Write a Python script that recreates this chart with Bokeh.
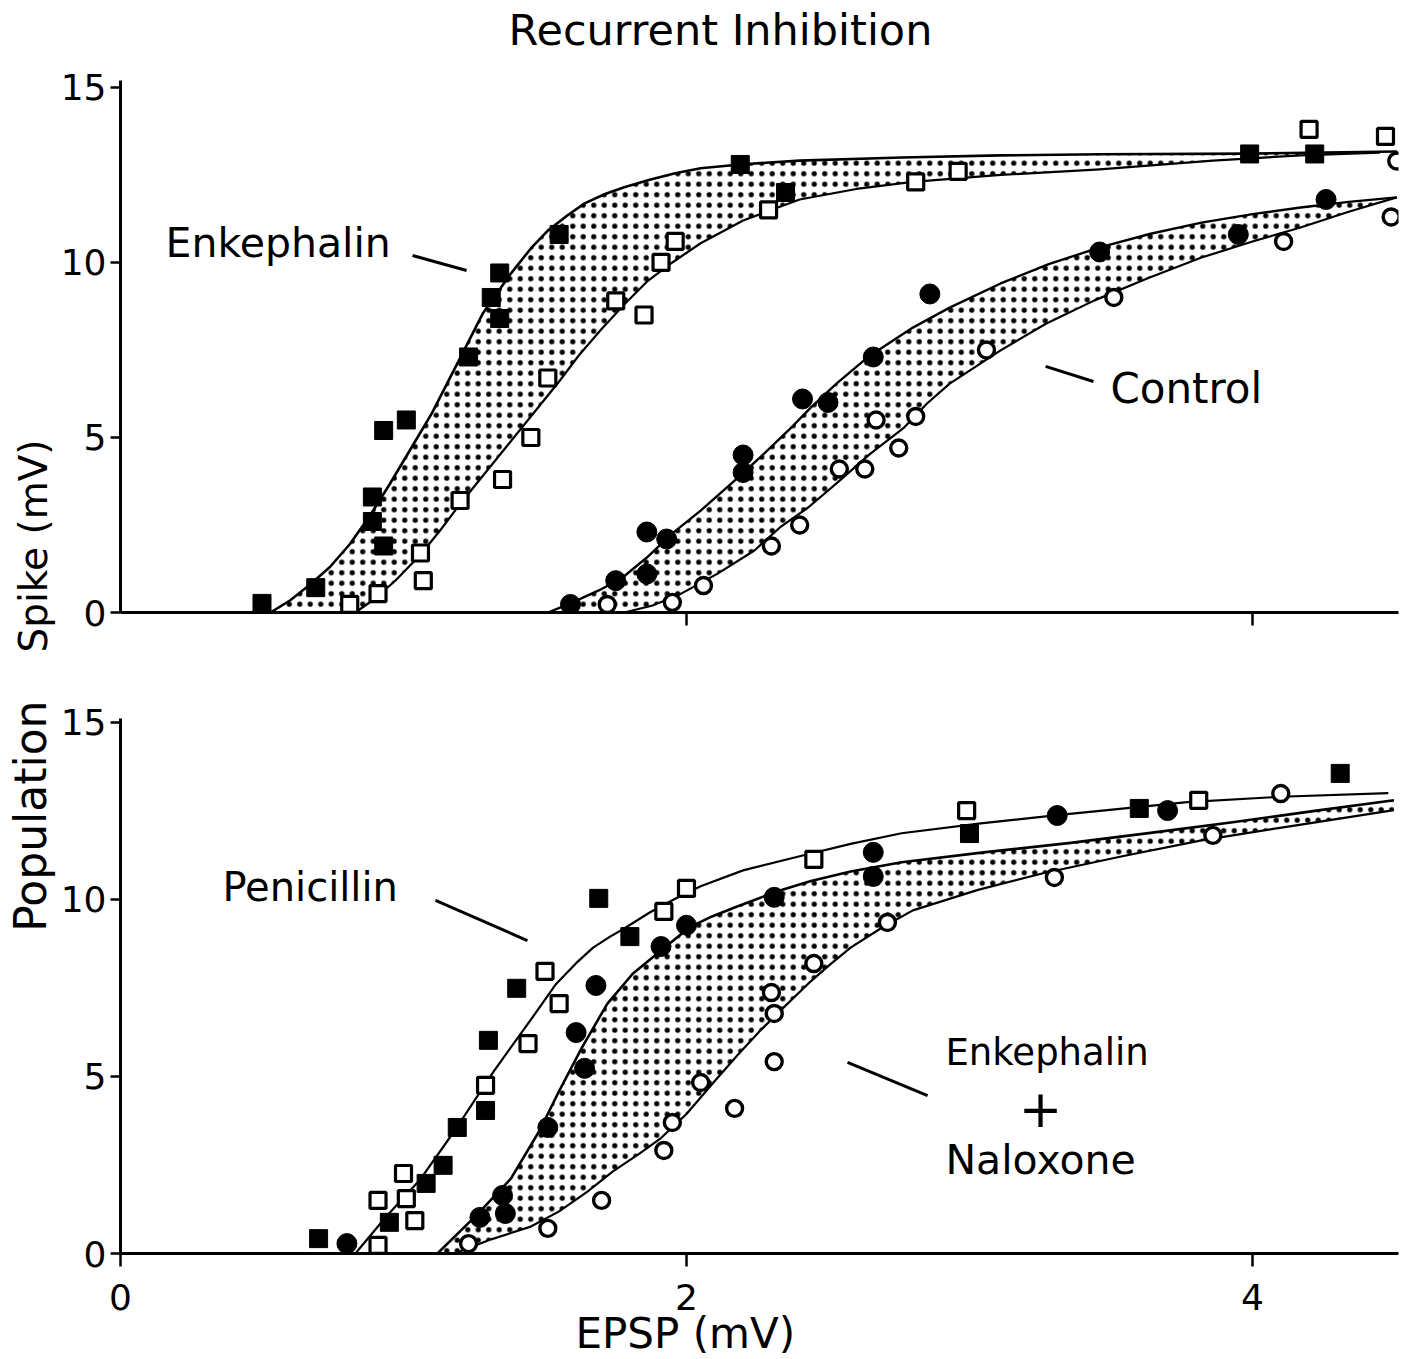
from bokeh.plotting import figure
from bokeh.models import Range1d, FixedTicker, Label, Title
from bokeh.layouts import column
from bokeh.embed import file_html
from bokeh.resources import INLINE

FONT = "DejaVu Sans"

# ---------------- Top panel: Spike (mV) vs EPSP (mV) ----------------
enk_fill_x = [0.50, 0.69, 0.89, 0.89, 0.93, 0.93, 1.01, 1.23, 1.31, 1.34, 1.34, 1.55, 2.19, 2.35, 3.99, 4.22]
enk_fill_y = [0.26, 0.71, 3.3, 2.6, 5.2, 1.9, 5.5, 7.3, 9.0, 9.7, 8.4, 10.8, 12.8, 12.0, 13.1, 13.1]
enk_open_x = [0.81, 0.91, 1.06, 1.07, 1.20, 1.35, 1.45, 1.51, 1.75, 1.85, 1.91, 1.96, 2.29, 2.81, 2.96, 4.20, 4.47]
enk_open_y = [0.23, 0.54, 1.7, 0.91, 3.2, 3.8, 5.0, 6.7, 8.9, 8.5, 10.0, 10.6, 11.5, 12.3, 12.6, 13.8, 13.6]
ctl_fill_x = [1.59, 1.75, 1.86, 1.86, 1.93, 2.20, 2.20, 2.41, 2.50, 2.66, 2.86, 3.46, 3.95, 4.26]
ctl_fill_y = [0.23, 0.91, 1.1, 2.3, 2.1, 4.5, 4.0, 6.1, 6.0, 7.3, 9.1, 10.3, 10.8, 11.8]
ctl_open_x = [1.72, 1.95, 2.06, 2.30, 2.40, 2.54, 2.63, 2.67, 2.75, 2.81, 3.06, 3.51, 4.11, 4.49, 4.51]
ctl_open_y = [0.23, 0.29, 0.77, 1.9, 2.5, 4.1, 4.1, 5.5, 4.7, 5.6, 7.5, 9.0, 10.6, 11.3, 12.9]

# hand-drawn curves
enk_hi_x = [0.53, 0.60, 0.67, 0.74, 0.81, 0.88, 0.95, 1.02, 1.10, 1.19, 1.28, 1.38, 1.45, 1.51, 1.58, 1.64, 1.71, 1.78, 1.87, 1.96, 2.05, 2.19, 2.40, 2.76, 3.11, 3.46, 3.99, 4.51]
enk_hi_y = [0.0, 0.35, 0.8, 1.3, 1.95, 2.75, 3.65, 4.6, 5.69, 7.11, 8.54, 9.69, 10.4, 10.91, 11.35, 11.69, 11.95, 12.15, 12.36, 12.55, 12.69, 12.8, 12.91, 13.0, 13.06, 13.09, 13.11, 13.17]
enk_lo_x = [0.83, 0.90, 0.97, 1.06, 1.13, 1.20, 1.27, 1.34, 1.41, 1.48, 1.55, 1.62, 1.70, 1.78, 1.86, 1.95, 2.05, 2.20, 2.40, 2.60, 2.80, 3.11, 3.46, 3.86, 4.17, 4.45]
enk_lo_y = [0.0, 0.4, 0.9, 1.65, 2.35, 3.1, 3.8, 4.5, 5.2, 5.9, 6.6, 7.35, 8.1, 8.8, 9.45, 10.0, 10.55, 11.2, 11.8, 12.1, 12.3, 12.5, 12.66, 12.91, 13.06, 13.14]
ctl_hi_x = [1.51, 1.59, 1.69, 1.77, 1.86, 1.95, 2.05, 2.17, 2.26, 2.36, 2.44, 2.53, 2.64, 2.80, 2.93, 3.11, 3.28, 3.46, 3.64, 3.82, 4.00, 4.17, 4.34, 4.51]
ctl_hi_y = [0.0, 0.26, 0.63, 0.97, 1.57, 2.26, 2.91, 3.77, 4.43, 5.2, 5.86, 6.54, 7.29, 8.14, 8.71, 9.4, 9.95, 10.43, 10.82, 11.14, 11.38, 11.57, 11.73, 11.86]
ctl_lo_x = [1.78, 1.88, 1.97, 2.11, 2.24, 2.33, 2.43, 2.53, 2.65, 2.77, 2.85, 2.93, 3.11, 3.27, 3.44, 3.63, 3.82, 4.00, 4.17, 4.34, 4.51]
ctl_lo_y = [0.0, 0.2, 0.49, 1.11, 1.77, 2.43, 3.0, 3.69, 4.54, 5.29, 5.97, 6.54, 7.49, 8.25, 8.91, 9.55, 10.14, 10.6, 11.0, 11.45, 11.86]

# ---------------- Bottom panel: Population spike ----------------
pen_fill_x = [0.70, 0.95, 1.08, 1.14, 1.19, 1.29, 1.30, 1.40, 1.69, 1.80, 3.00, 3.60, 4.31]
pen_fill_y = [0.42, 0.88, 1.98, 2.49, 3.56, 4.04, 6.02, 7.49, 10.03, 8.95, 11.86, 12.57, 13.56]
pen_open_x = [0.91, 0.91, 1.00, 1.01, 1.04, 1.29, 1.44, 1.55, 1.50, 1.92, 2.00, 2.45, 2.99, 3.81]
pen_open_y = [0.23, 1.50, 2.26, 1.55, 0.93, 4.75, 5.93, 7.06, 7.97, 9.66, 10.31, 11.13, 12.51, 12.80]
nal_fill_x = [0.80, 1.27, 1.36, 1.35, 1.51, 1.64, 1.61, 1.68, 1.91, 2.00, 2.31, 2.66, 2.66, 3.31, 3.70]
nal_fill_y = [0.28, 1.02, 1.13, 1.64, 3.56, 5.23, 6.24, 7.57, 8.67, 9.27, 10.06, 10.65, 11.33, 12.37, 12.51]
nal_open_x = [1.23, 1.51, 1.70, 1.92, 1.95, 2.05, 2.17, 2.31, 2.31, 2.30, 2.45, 2.71, 3.30, 3.86, 4.10]
nal_open_y = [0.28, 0.71, 1.50, 2.91, 3.70, 4.83, 4.10, 5.42, 6.78, 7.37, 8.19, 9.35, 10.62, 11.81, 12.99]

pen_x = [0.83, 0.94, 1.06, 1.18, 1.32, 1.44, 1.54, 1.61, 1.67, 1.73, 1.78, 1.87, 1.96, 2.05, 2.20, 2.40, 2.58, 2.76, 3.04, 3.31, 3.77, 4.10, 4.48]
pen_y = [0.0, 1.05, 2.10, 3.46, 5.16, 6.49, 7.62, 8.2, 8.64, 8.95, 9.18, 9.63, 10.02, 10.37, 10.82, 11.22, 11.57, 11.87, 12.15, 12.38, 12.75, 12.9, 13.0]
nal_hi_x = [1.12, 1.26, 1.38, 1.48, 1.55, 1.63, 1.72, 1.81, 1.91, 2.01, 2.09, 2.17, 2.31, 2.44, 2.58, 2.76, 3.05, 3.35, 3.64, 3.93, 4.22, 4.50]
nal_hi_y = [0.0, 1.10, 2.12, 3.46, 4.59, 5.81, 7.05, 7.90, 8.56, 9.21, 9.52, 9.77, 10.20, 10.52, 10.79, 11.05, 11.33, 11.59, 11.88, 12.18, 12.5, 12.80]
nal_lo_x = [1.18, 1.31, 1.45, 1.55, 1.65, 1.74, 1.83, 1.91, 2.00, 2.10, 2.18, 2.26, 2.35, 2.43, 2.51, 2.58, 2.69, 2.80, 3.03, 3.26, 3.54, 3.82, 4.16, 4.50]
nal_lo_y = [0.0, 0.40, 0.76, 1.19, 1.75, 2.32, 2.8, 3.26, 3.94, 4.87, 5.6, 6.29, 7.0, 7.62, 8.18, 8.64, 9.2, 9.69, 10.27, 10.74, 11.22, 11.67, 12.1, 12.52]

y_ticks = [0, 5, 10, 15]
x_ticks = [0, 2, 4]


def style(p, show_xlabels):
    p.xgrid.visible = False
    p.ygrid.visible = False
    p.outline_line_color = None
    ya = p.yaxis[0]
    ya.ticker = FixedTicker(ticks=y_ticks)
    ya.axis_line_width = 3
    ya.axis_line_color = "black"
    ya.major_tick_line_width = 2.5
    ya.major_tick_out = 10
    ya.major_tick_in = 0
    ya.minor_tick_out = 0
    ya.minor_tick_in = 0
    ya.major_label_text_font = FONT
    ya.major_label_text_font_size = "36px"
    ya.major_label_text_color = "black"
    ya.major_label_standoff = 4
    xa = p.xaxis[0]
    xa.axis_line_width = 3
    xa.axis_line_color = "black"
    xa.major_tick_line_width = 2.5
    xa.major_tick_out = 13
    xa.major_tick_in = 0
    xa.minor_tick_out = 0
    xa.minor_tick_in = 0
    if show_xlabels:
        xa.ticker = FixedTicker(ticks=x_ticks)
        xa.major_label_text_font = FONT
        xa.major_label_text_font_size = "36px"
        xa.major_label_text_color = "black"
        xa.major_label_standoff = 17
    else:
        xa.ticker = FixedTicker(ticks=x_ticks[1:])
        xa.major_label_overrides = {2: "", 4: ""}


def band(p, hx, hy, lx, ly):
    p.patch(list(hx) + list(lx)[::-1], list(hy) + list(ly)[::-1],
            fill_color="white", fill_alpha=0.0, line_color=None,
            hatch_pattern="dot", hatch_color="black", hatch_scale=10.5, hatch_weight=2.6)


def pts(p, x, y, kind):
    if kind == "fsq":
        p.scatter(x, y, marker="square", size=18, fill_color="black", line_color="black")
    elif kind == "osq":
        p.scatter(x, y, marker="square", size=16, fill_color="white", line_color="black", line_width=3.2)
    elif kind == "fci":
        p.scatter(x, y, marker="circle", size=20, fill_color="black", line_color="black")
    else:
        p.scatter(x, y, marker="circle", size=16, fill_color="white", line_color="black", line_width=3.4)


def txt(p, x, y, s, size="41px", align="left"):
    p.add_layout(Label(x=x, y=y, text=s, text_font=FONT, text_font_size=size,
                       text_align=align, text_baseline="middle", text_color="black"))


def side_title(p, s, loc, align, offset, size, standoff):
    t = Title(text=s, align=align, offset=offset, standoff=standoff,
              text_font=FONT, text_font_size=size, text_font_style="normal",
              text_color="black")
    p.add_layout(t, loc)


xr = Range1d(0, 4.516)

# ---------- top figure ----------
p1 = figure(width=1405, height=678, x_range=xr, y_range=Range1d(0, 17.37),
            output_backend="svg", toolbar_location=None,
            min_border_left=120, min_border_right=7, min_border_top=4, min_border_bottom=66)
style(p1, False)
p1.yaxis[0].bounds = (0, 15.2)
side_title(p1, "Spike (mV)", "left", "left", -40, "39px", 4)
txt(p1, 1.371, 16.63, "Recurrent Inhibition", size="43px")

band(p1, enk_hi_x, enk_hi_y, enk_lo_x, enk_lo_y)
band(p1, ctl_hi_x, ctl_hi_y, ctl_lo_x, ctl_lo_y)
p1.line(enk_hi_x, enk_hi_y, line_color="black", line_width=2.6, line_join="round")
p1.line(enk_lo_x, enk_lo_y, line_color="black", line_width=2.2, line_join="round")
p1.line(ctl_hi_x, ctl_hi_y, line_color="black", line_width=2.4, line_join="round")
p1.line(ctl_lo_x, ctl_lo_y, line_color="black", line_width=2.2, line_join="round")
pts(p1, enk_open_x, enk_open_y, "osq")
pts(p1, enk_fill_x, enk_fill_y, "fsq")
pts(p1, ctl_open_x, ctl_open_y, "oci")
pts(p1, ctl_fill_x, ctl_fill_y, "fci")

txt(p1, 0.159, 10.57, "Enkephalin")
p1.segment(x0=[1.032], y0=[10.2], x1=[1.223], y1=[9.77], line_color="black", line_width=3)
txt(p1, 3.498, 6.4, "Control", size="42px")
p1.segment(x0=[3.269], y0=[7.03], x1=[3.438], y1=[6.6], line_color="black", line_width=3)

# ---------- bottom figure ----------
p2 = figure(width=1405, height=679, x_range=xr, y_range=Range1d(0, 15.11),
            output_backend="svg", toolbar_location=None,
            min_border_left=120, min_border_right=7, min_border_top=40, min_border_bottom=104)
style(p2, True)
side_title(p2, "Population", "left", "right", -18, "44px", 4)
side_title(p2, "EPSP (mV)", "below", "left", 455, "42px", -12)

band(p2, nal_hi_x, nal_hi_y, nal_lo_x, nal_lo_y)
p2.line(pen_x, pen_y, line_color="black", line_width=2.2, line_join="round")
p2.line(nal_hi_x, nal_hi_y, line_color="black", line_width=2.6, line_join="round")
p2.line(nal_lo_x, nal_lo_y, line_color="black", line_width=2.2, line_join="round")
pts(p2, pen_open_x, pen_open_y, "osq")
pts(p2, pen_fill_x, pen_fill_y, "fsq")
pts(p2, nal_open_x, nal_open_y, "oci")
pts(p2, nal_fill_x, nal_fill_y, "fci")

txt(p2, 0.36, 10.34, "Penicillin", size="40px")
p2.segment(x0=[1.113], y0=[9.97], x1=[1.438], y1=[8.84], line_color="black", line_width=3)
txt(p2, 2.915, 5.68, "Enkephalin", size="37px")
txt(p2, 3.251, 4.12, "+", size="52px", align="center")
txt(p2, 2.915, 2.63, "Naloxone")
p2.segment(x0=[2.569], y0=[5.40], x1=[2.852], y1=[4.46], line_color="black", line_width=3)

layout = column(p1, p2, spacing=0)
open("out.html", "w").write(file_html(layout, INLINE))
